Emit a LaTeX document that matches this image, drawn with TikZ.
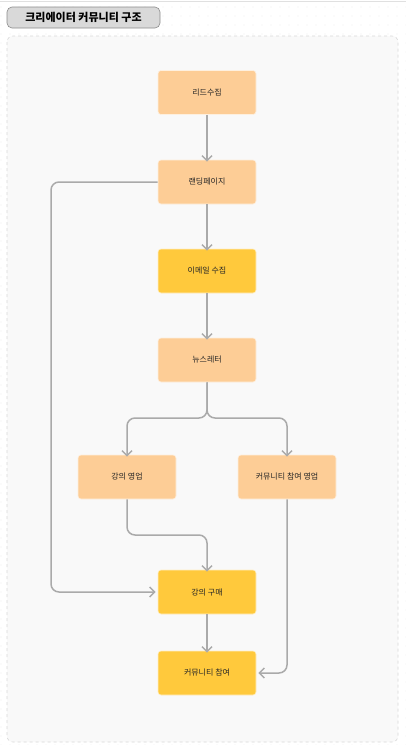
\documentclass[tikz,border=0pt]{standalone}
\usepackage{fontspec}
\newfontfamily\kr{Noto Sans CJK KR}
\usetikzlibrary{arrows.meta}
\definecolor{peach}{HTML}{FDCD96}
\definecolor{gold}{HTML}{FFC93C}
\definecolor{edgec}{HTML}{AAAAAA}
\definecolor{panel}{HTML}{F9F9F9}
\tikzset{
  box/.style={draw=white!70!peach, line width=0.6pt, rounded corners=3pt, minimum width=98pt, minimum height=44pt, inner sep=0pt, font=\kr\fontsize{8}{10}\selectfont, text=black!85},
  lightbox/.style={box, fill=peach},
  goldbox/.style={box, fill=gold, draw=white!70!gold},
  conn/.style={draw=edgec, line width=1.5pt, rounded corners=8pt, -{Straight Barb[length=5pt,width=10pt,line width=1.5pt]}}
}
\begin{document}
\begin{tikzpicture}[x=1pt,y=-1pt]
\useasboundingbox (0,0) rectangle (406,745);
\fill[white] (0,0) rectangle (406,745);
\draw[black!12, line width=0.8pt] (0,1.5) -- (406,1.5);
\foreach \i in {0,...,45} {
  \foreach \j in {0,...,82} {
    \fill[black!18] ({1+9*\i},{7+9*\j}) circle (0.45pt);
  }
}
\path[fill=panel, draw=black!15, dashed, line width=0.6pt, rounded corners=6pt] (7,36) rectangle (398,742);
\node[draw=black!45, fill=black!15, rounded corners=5pt, line width=0.6pt, minimum width=153pt, minimum height=21pt, inner sep=0pt, font=\kr\bfseries\fontsize{11}{13}\selectfont] (title) at (83.5,17.5) {크리에이터 커뮤니티 구조};

\node[lightbox] (lead) at (207,92.5) {리드수집};
\node[lightbox] (land) at (207,182) {랜딩페이지};
\node[goldbox] (email) at (207,271) {이메일 수집};
\node[lightbox] (news) at (207,360) {뉴스레터};
\node[lightbox] (sale1) at (127,477) {강의 영업};
\node[lightbox] (sale2) at (287,477) {커뮤니티 참여 영업};
\node[goldbox] (buy) at (207,592) {강의 구매};
\node[goldbox] (join) at (207,673) {커뮤니티 참여};

\draw[conn] (lead.south) -- ([yshift=-2pt]land.north);
\draw[conn] (land.south) -- ([yshift=-2pt]email.north);
\draw[conn] (email.south) -- ([yshift=-2pt]news.north);
\draw[conn] (buy.south) -- ([yshift=-2pt]join.north);
\draw[conn] (land.west) -- (51,182) -- (51,592) -- ([xshift=-2pt]buy.west);
\draw[conn] (news.south) -- (207,418) -- (127,418) -- ([yshift=-2pt]sale1.north);
\draw[conn] (news.south) -- (207,418) -- (287,418) -- ([yshift=-2pt]sale2.north);
\draw[conn] (sale1.south) -- (127,535) -- (207,535) -- ([yshift=-2pt]buy.north);
\draw[conn] (sale2.south) -- (287,673) -- ([xshift=2pt]join.east);
\end{tikzpicture}
\end{document}
